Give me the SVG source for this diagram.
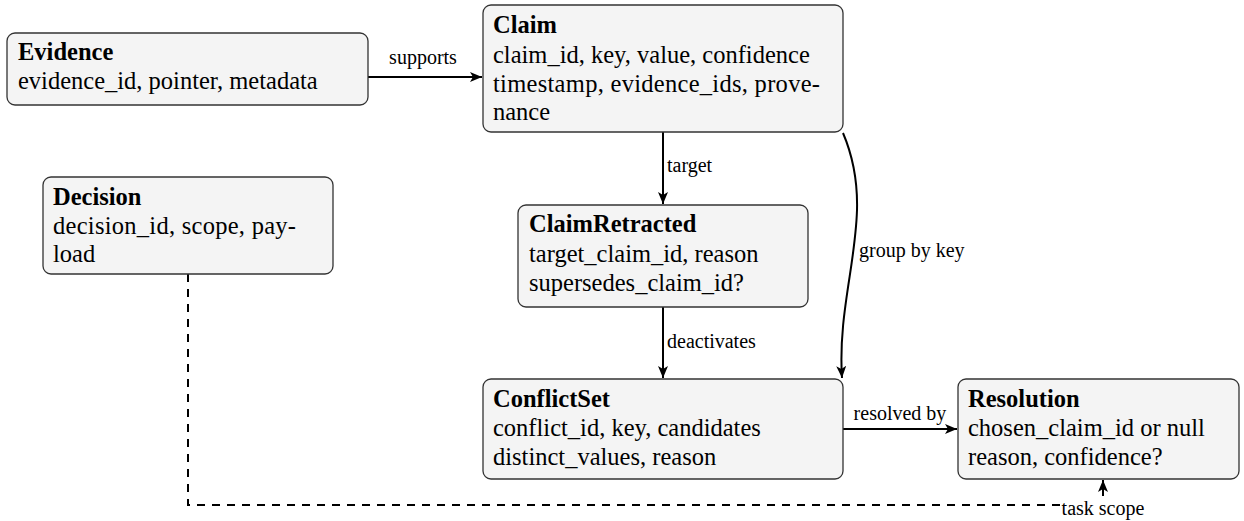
<svg xmlns="http://www.w3.org/2000/svg" width="1244" height="521" viewBox="0 0 1244 521">
<defs>
<marker id="ah" viewBox="0 0 12 10" refX="12" refY="5" markerWidth="12" markerHeight="10" markerUnits="userSpaceOnUse" orient="auto">
<path d="M0,0 L12,5 L0,10 L3,5 Z" fill="#000"/>
</marker>
</defs>
<style>
.box{fill:#f4f4f4;stroke:#333;stroke-width:1.3}
.c{fill:none;stroke:#000;stroke-width:2}
.d{fill:none;stroke:#000;stroke-width:2;stroke-dasharray:8 7}
</style>
<rect width="1244" height="521" fill="#fff"/>
<g id="connectors" font-family="Liberation Serif, serif" font-size="20">
<path class="c" d="M368,77 L482,77" marker-end="url(#ah)"/>
<text x="423" y="64" text-anchor="middle">supports</text>
<path class="c" d="M663,132 L663,204" marker-end="url(#ah)"/>
<text x="667" y="172">target</text>
<path class="c" d="M663,307 L663,378" marker-end="url(#ah)"/>
<text x="667" y="348">deactivates</text>
<path class="c" d="M843,133 C878,215 836,285 842,378" marker-end="url(#ah)"/>
<text x="859" y="257">group by key</text>
<path class="c" d="M843,429 L957,429" marker-end="url(#ah)"/>
<text x="900" y="420" text-anchor="middle">resolved by</text>
<path class="d" d="M188,274 L188,505 L1103,505 L1103,493"/>
<path class="c" d="M1103,493 L1103,480" marker-end="url(#ah)"/>
<rect x="1060" y="497" width="86" height="24" fill="#fff"/>
<text x="1103" y="515" text-anchor="middle">task scope</text>
</g>
<g id="evidence" font-family="Liberation Serif, serif" font-size="24.5">
<rect class="box" x="7" y="33" width="361" height="72" rx="8"/>
<text x="18" y="60" font-weight="bold">Evidence</text>
<text x="18" y="89">evidence_id, pointer, metadata</text>
</g>
<g id="claim" font-family="Liberation Serif, serif" font-size="24.5">
<rect class="box" x="483" y="5" width="360" height="127" rx="8"/>
<text x="493" y="33" font-weight="bold">Claim</text>
<text x="493" y="63">claim_id, key, value, confidence</text>
<text x="493" y="92" textLength="327" lengthAdjust="spacing">timestamp, evidence_ids, prove-</text>
<text x="493" y="120">nance</text>
</g>
<g id="decision" font-family="Liberation Serif, serif" font-size="24.5">
<rect class="box" x="43" y="177" width="290" height="97" rx="8"/>
<text x="53" y="205" font-weight="bold">Decision</text>
<text x="53" y="234" textLength="243" lengthAdjust="spacing">decision_id, scope, pay-</text>
<text x="53" y="262">load</text>
</g>
<g id="claimretracted" font-family="Liberation Serif, serif" font-size="24.5">
<rect class="box" x="518" y="205" width="290" height="102" rx="8"/>
<text x="529" y="232" font-weight="bold">ClaimRetracted</text>
<text x="529" y="262">target_claim_id, reason</text>
<text x="529" y="291">supersedes_claim_id?</text>
</g>
<g id="conflictset" font-family="Liberation Serif, serif" font-size="24.5">
<rect class="box" x="483" y="379" width="360" height="100" rx="8"/>
<text x="493" y="407" font-weight="bold">ConflictSet</text>
<text x="493" y="436">conflict_id, key, candidates</text>
<text x="493" y="465">distinct_values, reason</text>
</g>
<g id="resolution" font-family="Liberation Serif, serif" font-size="24.5">
<rect class="box" x="958" y="379" width="281" height="100" rx="8"/>
<text x="968" y="407" font-weight="bold">Resolution</text>
<text x="968" y="436">chosen_claim_id or null</text>
<text x="968" y="465">reason, confidence?</text>
</g>
</svg>
